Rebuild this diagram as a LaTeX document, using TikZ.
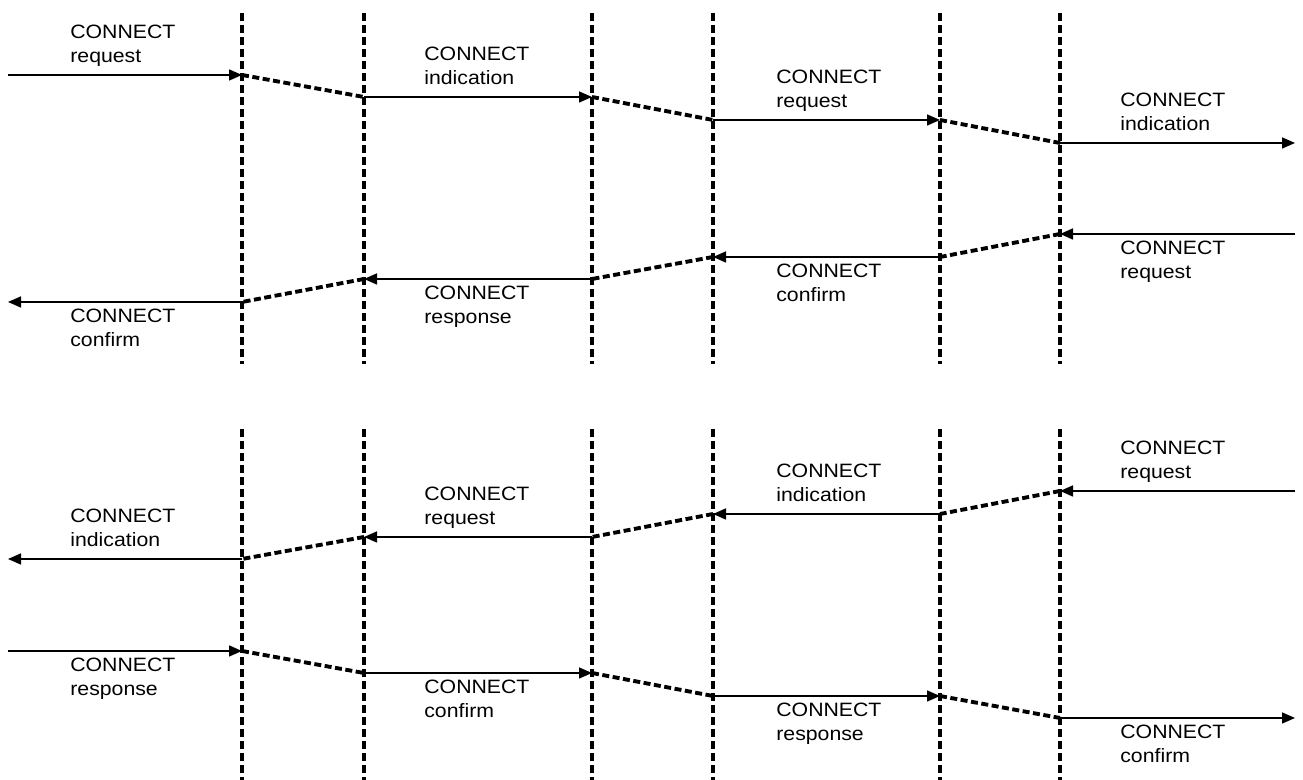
\documentclass[tikz,border=0pt]{standalone}
\usepackage{fontspec}
\setmainfont[FakeStretch=1.1]{Liberation Sans}
\usetikzlibrary{arrows.meta, positioning}

\begin{document}
\begin{tikzpicture}[
    layer/.style={
        line width=2.3pt,
        dash pattern=on 0.16cm off 0.08cm
    },
    prim/.style={
        -{Triangle[length=0.26cm, width=0.22cm]},
        line width=0.9pt
    },
    relay/.style={
        line width=2.2pt,
        dash pattern=on 0.14cm off 0.07cm
    },
    lbl/.style={
        anchor=base west,
        align=left,
        inner sep=0pt,
        font=\fontsize{11}{13.66}\selectfont
    }
]
\useasboundingbox (0,0) rectangle (26.06,15.6);

% Layer boundaries
\foreach \x in {4.84, 7.28, 11.84, 14.26, 18.8, 21.2} {
    \draw[layer] (\x,15.34) -- (\x,8.32);
    \draw[layer] (\x,7.02) -- (\x,0);
}

% Upper exchange: request going right
\coordinate (r1-0) at (0.16,14.1);
\coordinate (r1-1) at (4.84,14.1);
\coordinate (r1-2) at (7.28,13.66);
\coordinate (r1-3) at (11.84,13.66);
\coordinate (r1-4) at (14.26,13.2);
\coordinate (r1-5) at (18.8,13.2);
\coordinate (r1-6) at (21.2,12.74);
\coordinate (r1-7) at (25.9,12.74);

\draw[prim] (r1-0) -- (r1-1);
\draw[relay] (r1-1) -- (r1-2);
\draw[prim] (r1-2) -- (r1-3);
\draw[relay] (r1-3) -- (r1-4);
\draw[prim] (r1-4) -- (r1-5);
\draw[relay] (r1-5) -- (r1-6);
\draw[prim] (r1-6) -- (r1-7);

\node[lbl] (req1) at (1.4,14.34) {CONNECT\\request};
\node[lbl] (ind1) at (8.48,13.9) {CONNECT\\indication};
\node[lbl] (req2) at (15.52,13.44) {CONNECT\\request};
\node[lbl] (ind2) at (22.4,12.98) {CONNECT\\indication};

% Upper exchange: answer going left
\coordinate (r2-7) at (25.9,10.92);
\coordinate (r2-6) at (21.2,10.92);
\coordinate (r2-5) at (18.8,10.46);
\coordinate (r2-4) at (14.26,10.46);
\coordinate (r2-3) at (11.84,10.02);
\coordinate (r2-2) at (7.28,10.02);
\coordinate (r2-1) at (4.84,9.56);
\coordinate (r2-0) at (0.16,9.56);

\draw[prim] (r2-7) -- (r2-6);
\draw[relay] (r2-6) -- (r2-5);
\draw[prim] (r2-5) -- (r2-4);
\draw[relay] (r2-4) -- (r2-3);
\draw[prim] (r2-3) -- (r2-2);
\draw[relay] (r2-2) -- (r2-1);
\draw[prim] (r2-1) -- (r2-0);

\node[lbl] (cnf1) at (1.4,8.66) {CONNECT\\confirm};
\node[lbl] (rsp1) at (8.48,9.12) {CONNECT\\response};
\node[lbl] (cnf2) at (15.52,9.56) {CONNECT\\confirm};
\node[lbl] (req3) at (22.4,10.02) {CONNECT\\request};

% Lower exchange: request going left
\coordinate (r3-7) at (25.9,5.78);
\coordinate (r3-6) at (21.2,5.78);
\coordinate (r3-5) at (18.8,5.32);
\coordinate (r3-4) at (14.26,5.32);
\coordinate (r3-3) at (11.84,4.86);
\coordinate (r3-2) at (7.28,4.86);
\coordinate (r3-1) at (4.84,4.42);
\coordinate (r3-0) at (0.16,4.42);

\draw[prim] (r3-7) -- (r3-6);
\draw[relay] (r3-6) -- (r3-5);
\draw[prim] (r3-5) -- (r3-4);
\draw[relay] (r3-4) -- (r3-3);
\draw[prim] (r3-3) -- (r3-2);
\draw[relay] (r3-2) -- (r3-1);
\draw[prim] (r3-1) -- (r3-0);

\node[lbl] (ind3) at (1.4,4.66) {CONNECT\\indication};
\node[lbl] (req4) at (8.48,5.1) {CONNECT\\request};
\node[lbl] (ind4) at (15.52,5.56) {CONNECT\\indication};
\node[lbl] (req5) at (22.4,6.02) {CONNECT\\request};

% Lower exchange: answer going right
\coordinate (r4-0) at (0.16,2.58);
\coordinate (r4-1) at (4.84,2.58);
\coordinate (r4-2) at (7.28,2.14);
\coordinate (r4-3) at (11.84,2.14);
\coordinate (r4-4) at (14.26,1.68);
\coordinate (r4-5) at (18.8,1.68);
\coordinate (r4-6) at (21.2,1.24);
\coordinate (r4-7) at (25.9,1.24);

\draw[prim] (r4-0) -- (r4-1);
\draw[relay] (r4-1) -- (r4-2);
\draw[prim] (r4-2) -- (r4-3);
\draw[relay] (r4-3) -- (r4-4);
\draw[prim] (r4-4) -- (r4-5);
\draw[relay] (r4-5) -- (r4-6);
\draw[prim] (r4-6) -- (r4-7);

\node[lbl] (rsp2) at (1.4,1.68) {CONNECT\\response};
\node[lbl] (cnf3) at (8.48,1.24) {CONNECT\\confirm};
\node[lbl] (rsp3) at (15.52,0.78) {CONNECT\\response};
\node[lbl] (cnf4) at (22.4,0.34) {CONNECT\\confirm};

\end{tikzpicture}
\end{document}
